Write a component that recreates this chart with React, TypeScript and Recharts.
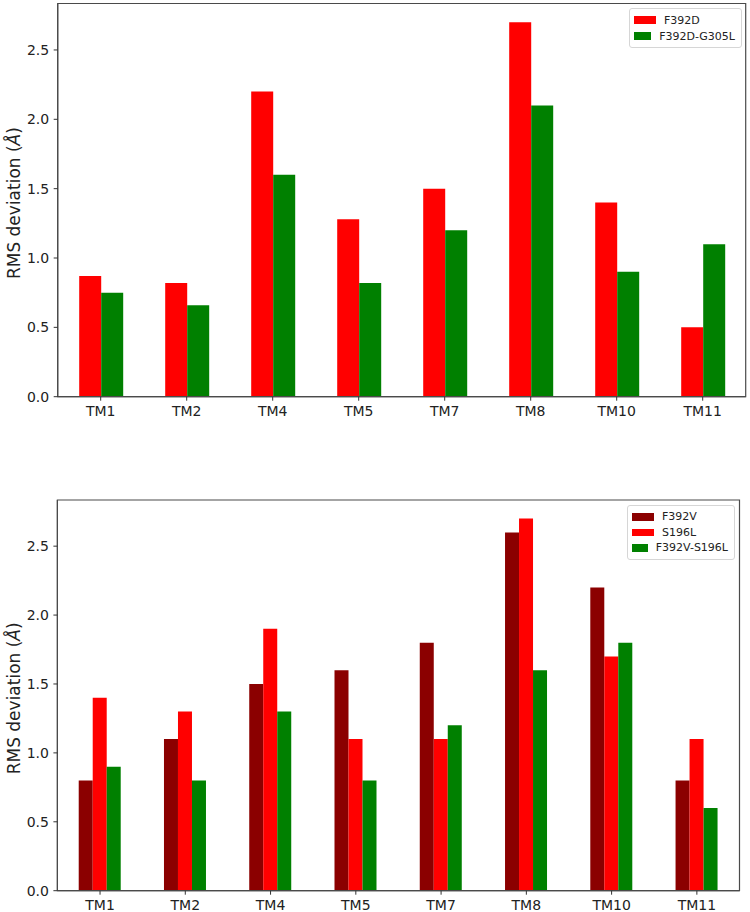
import React from 'react';
import { BarChart, Bar, XAxis, YAxis, Legend, ReferenceArea } from 'recharts';

const categories = ['TM1', 'TM2', 'TM4', 'TM5', 'TM7', 'TM8', 'TM10', 'TM11'];

// Upper panel
const f392d = [0.87, 0.82, 2.2, 1.28, 1.5, 2.7, 1.4, 0.5];
const f392dG305l = [0.75, 0.66, 1.6, 0.82, 1.2, 2.1, 0.9, 1.1];

// Lower panel
const f392v = [0.8, 1.1, 1.5, 1.6, 1.8, 2.6, 2.2, 0.8];
const s196l = [1.4, 1.3, 1.9, 1.1, 1.1, 2.7, 1.7, 1.1];
const f392vS196l = [0.9, 0.8, 1.3, 0.8, 1.2, 1.6, 1.8, 0.6];

const yTicks = [0, 0.5, 1.0, 1.5, 2.0, 2.5];
const yMax = 2.835;

const FONT = '"DejaVu Sans", Verdana, sans-serif';
const SPINE = '#4a4a4a';

const topData = categories.map((name, i) => ({
  name,
  F392D: f392d[i],
  'F392D-G305L': f392dG305l[i],
}));

const bottomData = categories.map((name, i) => ({
  name,
  F392V: f392v[i],
  S196L: s196l[i],
  'F392V-S196L': f392vS196l[i],
}));

type Item = { label: string; color: string };

const LegendBox = ({ items, rowHeight }: { items: Item[]; rowHeight: number }) => (
  <div
    style={{
      border: '1px solid #d6d6d6',
      borderRadius: 3,
      background: 'rgba(255,255,255,0.85)',
      padding: '3px 6px 3px 4px',
      fontFamily: FONT,
      fontSize: 11,
      color: '#222',
      boxSizing: 'border-box',
    }}
  >
    {items.map((it) => (
      <div
        key={it.label}
        style={{ display: 'flex', alignItems: 'center', height: rowHeight, whiteSpace: 'nowrap' }}
      >
        <span
          style={{ display: 'inline-block', width: 22, height: 7.5, background: it.color, marginRight: 8 }}
        />
        <span>{it.label}</span>
      </div>
    ))}
  </div>
);

const yLabel = (props: any) => {
  const vb = props.viewBox || {};
  const cx = 14;
  const cy = (vb.y ?? 0) + (vb.height ?? 0) / 2 + 3;
  return (
    <text
      x={cx}
      y={cy}
      transform={`rotate(-90 ${cx} ${cy})`}
      textAnchor="middle"
      dominantBaseline="central"
      fontFamily={FONT}
      fontSize={17}
      fill="#222"
    >
      RMS deviation (<tspan fontStyle="italic">Å</tspan>)
    </text>
  );
};

const tickStyle = { fontFamily: FONT, fontSize: 14, fill: '#222' };

const frame = (
  <ReferenceArea
    y1={0}
    y2={yMax}
    fill="none"
    stroke={SPINE}
    strokeWidth={1.2}
    ifOverflow="visible"
  />
);

export default function App() {
  return (
    <div style={{ position: 'absolute', left: 0, top: 0, width: 750, height: 912, background: '#fff' }}>
      <div style={{ position: 'absolute', left: 0, top: 0 }}>
        <BarChart
          width={750}
          height={440}
          data={topData}
          margin={{ top: 3.5, right: 4.3, left: 0, bottom: 13.3 }}
          barCategoryGap="25%"
          barGap={0}
        >
          {frame}
          <XAxis
            dataKey="name"
            height={30}
            tick={tickStyle}
            tickSize={4}
            tickMargin={5.5}
            tickLine={{ stroke: '#333' }}
            axisLine={{ stroke: SPINE, strokeWidth: 1.2 }}
            interval={0}
          />
          <YAxis
            width={57.7}
            domain={[0, yMax]}
            ticks={yTicks}
            tickFormatter={(v: number) => v.toFixed(1)}
            tick={tickStyle}
            tickSize={4}
            tickMargin={4.5}
            tickLine={{ stroke: '#333' }}
            axisLine={{ stroke: SPINE, strokeWidth: 1.2 }}
            label={{ content: yLabel }}
          />
          <Bar dataKey="F392D" fill="#ff0000" isAnimationActive={false} />
          <Bar dataKey="F392D-G305L" fill="#008000" isAnimationActive={false} />
          <Legend
            layout="vertical"
            align="center"
            verticalAlign="middle"
            content={() => (
              <LegendBox
                rowHeight={16}
                items={[
                  { label: 'F392D', color: '#ff0000' },
                  { label: 'F392D-G305L', color: '#008000' },
                ]}
              />
            )}
            wrapperStyle={{ position: 'absolute', left: 629, top: 8, right: 'auto', bottom: 'auto', width: 113 }}
          />
        </BarChart>
      </div>
      <div style={{ position: 'absolute', left: 0, top: 470 }}>
        <BarChart
          width={750}
          height={442}
          data={bottomData}
          margin={{ top: 30, right: 10.5, left: 0, bottom: 0 }}
          barCategoryGap="25%"
          barGap={0}
        >
          {frame}
          <XAxis
            dataKey="name"
            height={21.3}
            tick={tickStyle}
            tickSize={4}
            tickMargin={5.5}
            tickLine={{ stroke: '#333' }}
            axisLine={{ stroke: SPINE, strokeWidth: 1.2 }}
            interval={0}
          />
          <YAxis
            width={57.4}
            domain={[0, yMax]}
            ticks={yTicks}
            tickFormatter={(v: number) => v.toFixed(1)}
            tick={tickStyle}
            tickSize={4}
            tickMargin={4.5}
            tickLine={{ stroke: '#333' }}
            axisLine={{ stroke: SPINE, strokeWidth: 1.2 }}
            label={{ content: yLabel }}
          />
          <Bar dataKey="F392V" fill="#8b0000" isAnimationActive={false} />
          <Bar dataKey="S196L" fill="#ff0000" isAnimationActive={false} />
          <Bar dataKey="F392V-S196L" fill="#008000" isAnimationActive={false} />
          <Legend
            layout="vertical"
            align="center"
            verticalAlign="middle"
            content={() => (
              <LegendBox
                rowHeight={15.5}
                items={[
                  { label: 'F392V', color: '#8b0000' },
                  { label: 'S196L', color: '#ff0000' },
                  { label: 'F392V-S196L', color: '#008000' },
                ]}
              />
            )}
            wrapperStyle={{ position: 'absolute', left: 627, top: 35, right: 'auto', bottom: 'auto', width: 108 }}
          />
        </BarChart>
      </div>
    </div>
  );
}
